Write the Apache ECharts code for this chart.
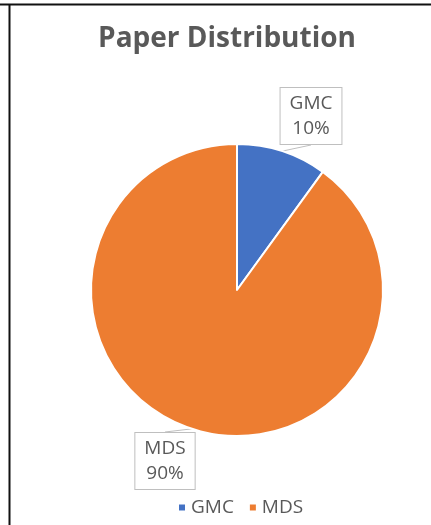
<!DOCTYPE html>
<html><head><meta charset="utf-8">
<script src="https://cdn.jsdelivr.net/npm/echarts@6/dist/echarts.min.js"></script>
<style>html,body{margin:0;padding:0;background:#fff}#c{width:431px;height:525px}</style>
</head><body><div id="c"></div>
<script>
const categories = ['GMC', 'MDS'];
const values = [10, 90];
const colors = ['#4472C4', '#ED7D31'];
const titleText = 'Paper Distribution';

const chart = echarts.init(document.getElementById('c'));
const labelPos = [{x: 311, y: 116}, {x: 165, y: 461}];
chart.setOption({
  animation: false,
  title: {
    text: titleText, left: 222, top: 20, textAlign: 'center',
    textStyle: {fontFamily: 'Open Sans', fontWeight: 'bold', fontSize: 28, color: '#595959'}
  },
  legend: {
    bottom: 8, left: 177, padding: 0, itemWidth: 8, itemHeight: 8, itemGap: 14, icon: 'rect',
    textStyle: {fontFamily: 'Open Sans', fontSize: 19, color: '#595959'},
    data: categories
  },
  graphic: [
    {type: 'line', shape: {x1: 0, y1: 4.5, x2: 431, y2: 4.5}, style: {stroke: '#111', lineWidth: 2}},
    {type: 'line', shape: {x1: 9.5, y1: 4, x2: 9.5, y2: 525}, style: {stroke: '#111', lineWidth: 2}}
  ],
  series: [{
    type: 'pie',
    center: [237, 290],
    radius: 146,
    startAngle: 90,
    clockwise: true,
    itemStyle: {borderColor: '#fff', borderWidth: 2},
    label: {
      show: true,
      formatter: '{b}\n{d}%',
      fontFamily: 'Open Sans', fontSize: 19, color: '#595959', lineHeight: 25,
      backgroundColor: '#fff', borderColor: '#BFBFBF', borderWidth: 1,
      padding: [4, 9, 2, 9], align: 'center'
    },
    labelLine: {show: true, length: 10, length2: 0, lineStyle: {color: '#BFBFBF'}},
    labelLayout: function (p) {
      return {x: labelPos[p.dataIndex].x, y: labelPos[p.dataIndex].y, align: 'center', verticalAlign: 'middle'};
    },
    data: categories.map((c, i) => ({name: c, value: values[i], itemStyle: {color: colors[i]}}))
  }]
});
</script></body></html>
